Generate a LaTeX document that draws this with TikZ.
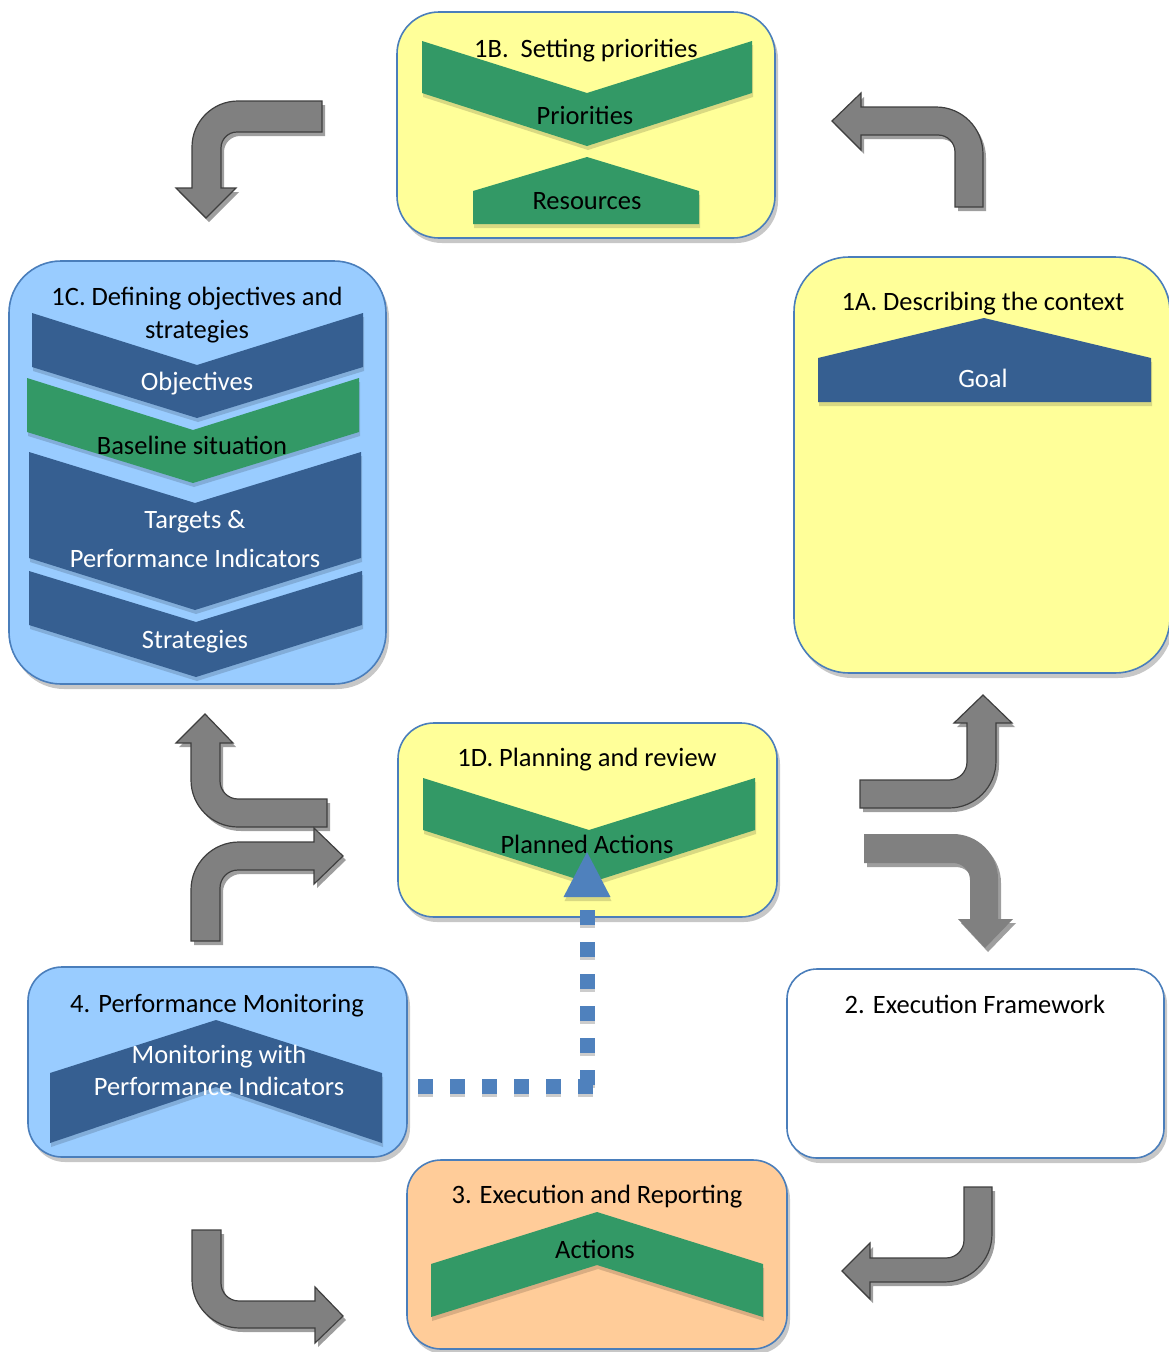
\documentclass[tikz,border=0pt]{standalone}
\usepackage{fontspec}
\setmainfont{Carlito}
\usetikzlibrary{shadows}
\definecolor{cyellow}{HTML}{FFFF99}
\definecolor{clblue}{HTML}{99CCFF}
\definecolor{cpeach}{HTML}{FFCC99}
\definecolor{cgreen}{HTML}{339966}
\definecolor{cblue}{HTML}{365F91}
\definecolor{bordc}{HTML}{4A7EBB}
\definecolor{agray}{HTML}{808080}
\definecolor{adark}{HTML}{3F3F3F}
\definecolor{dotc}{HTML}{4F81BD}
\begin{document}
\begin{tikzpicture}[x=1pt,y=-1pt,
  box/.style={draw=bordc,line width=1.6pt,inner sep=0pt,outer sep=0pt,
    drop shadow={shadow xshift=3pt,shadow yshift=-5pt,fill=black!22,opacity=1}},
  lbl/.style={font=\fontsize{26.5}{30}\selectfont,anchor=base,inner sep=0pt,text=black},
  wlbl/.style={lbl,text=white},
  shshadow/.style={drop shadow={shadow xshift=1pt,shadow yshift=-4pt,fill=black,opacity=0.15}},
  gshape/.style={fill=cgreen,shshadow},
  bshape/.style={fill=cblue,shshadow},
  garrow/.style={fill=agray,draw=adark,line width=1.2pt,line join=miter,
    drop shadow={shadow xshift=3pt,shadow yshift=-4pt,fill=black!38,opacity=1}},
  garrowplain/.style={fill=agray,
    drop shadow={shadow xshift=3pt,shadow yshift=-4pt,fill=black!38,opacity=1}},
  dotline/.style={draw=dotc,line width=15pt,dash pattern=on 15pt off 17pt},
  dotshadow/.style={draw=black!20,line width=15pt,dash pattern=on 15pt off 17pt}
]
\useasboundingbox (0,0) rectangle (1169,1352);

% ---------- boxes ----------
\node[box,fill=cyellow,rounded corners=42pt,minimum width=378pt,minimum height=226pt] (b1B) at (586,125) {};
\node[box,fill=clblue,rounded corners=52pt,minimum width=377pt,minimum height=423pt] (b1C) at (197.5,472.5) {};
\node[box,fill=cyellow,rounded corners=55pt,minimum width=376pt,minimum height=416pt] (b1A) at (982,465) {};
\node[box,fill=cyellow,rounded corners=36pt,minimum width=379pt,minimum height=194pt] (b1D) at (587.5,820) {};
\node[box,fill=clblue,rounded corners=34pt,minimum width=379pt,minimum height=190pt] (b4) at (217.5,1062) {};
\node[box,fill=white,rounded corners=30pt,minimum width=377pt,minimum height=189pt] (b2) at (975.5,1063.5) {};
\node[box,fill=cpeach,rounded corners=34pt,minimum width=380pt,minimum height=189pt] (b3) at (597,1254.5) {};

% ---------- chevrons ----------
\fill[gshape] (422,41) -- (587,93) -- (752,41) -- (752,93) -- (587,146) -- (422,93) -- cycle;
\fill[gshape] (587,157) -- (699,191) -- (699,224) -- (473,224) -- (473,191) -- cycle;
\fill[bshape] (32,313) -- (197,365) -- (363,313) -- (363,367) -- (197,418) -- (32,367) -- cycle;
\fill[gshape] (27,378) -- (193,430) -- (359,378) -- (359,432) -- (193,483) -- (27,432) -- cycle;
\fill[bshape] (29,452) -- (195,503) -- (361,452) -- (361,558) -- (195,610) -- (29,558) -- cycle;
\fill[bshape] (29,571) -- (196,622) -- (362,571) -- (362,625) -- (196,677) -- (29,625) -- cycle;
\fill[bshape] (984,318) -- (1151,358) -- (1151,402) -- (818,402) -- (818,358) -- cycle;
\fill[gshape] (423,778) -- (589,830) -- (755,778) -- (755,830) -- (589,883) -- (423,830) -- cycle;
\fill[bshape] (216,1020) -- (382,1073) -- (382,1143) -- (216,1087) -- (50,1143) -- (50,1073) -- cycle;
\fill[gshape] (597,1212) -- (763,1264) -- (763,1317) -- (597,1265) -- (431,1317) -- (431,1264) -- cycle;

% ---------- dotted connector ----------
\coordinate (dotstart) at (418,1086);
\coordinate (dotbend) at (594,1086);
\coordinate (dotup) at (587,910);
\coordinate (dotdown) at (587,1086);
\coordinate (tribase) at (587,897);
\draw[dotshadow,transform canvas={yshift=-3pt}] (dotstart) -- (dotbend);
\draw[dotshadow,transform canvas={yshift=-3pt}] (dotup) -- (dotdown);
\draw[dotline] (dotstart) -- (dotbend);
\draw[dotline] (dotup) -- (dotdown);
\fill[fill=dotc,shshadow] (587,852) -- ([xshift=23.5pt]tribase) -- ([xshift=-23.5pt]tribase) -- cycle;

% ---------- texts ----------
\node[lbl] (t1B) at (586,57) {1B.~~Setting priorities};
\node[lbl] (tPri) at (585,124) {Priorities};
\node[lbl] (tRes) at (587,209) {Resources};
\node[lbl] (t1Ca) at (197,305) {1C. Defining objectives and};
\node[lbl] (t1Cb) at (197,338) {strategies};
\node[wlbl] (tObj) at (197,390) {Objectives};
\node[lbl] (tBase) at (192,454) {Baseline situation};
\node[wlbl] (tTa) at (195,528) {Targets \&};
\node[wlbl] (tTb) at (195,567) {Performance Indicators};
\node[wlbl] (tStr) at (195,648) {Strategies};
\node[lbl] (t1A) at (983,310) {1A. Describing the context};
\node[wlbl] (tGoal) at (983,387) {Goal};
\node[lbl] (t1D) at (587,766) {1D. Planning and review};
\node[lbl] (tPA) at (587,853) {Planned Actions};
\node[lbl] (t4) at (217,1012) {4. Performance Monitoring};
\node[wlbl] (tMa) at (219,1063) {Monitoring with};
\node[wlbl] (tMb) at (219,1095) {Performance Indicators};
\node[lbl] (t2) at (975,1013) {2. Execution Framework};
\node[lbl] (t3) at (597,1203) {3. Execution and Reporting};
\node[lbl] (tAct) at (595,1258) {Actions};

% ---------- gray bent arrows ----------
% A: top-left, from 1B down to 1C
\path[garrow] (322,101) -- (238,101) arc[start angle=270,end angle=180,radius=46]
  -- (192,188) -- (176,188) -- (206,218) -- (236,188) -- (221,188)
  -- (221,148) arc[start angle=180,end angle=270,radius=16] -- (322,132) -- cycle;
% B: top-right, from 1A to 1B
\path[garrow] (861,107) -- (936,107) arc[start angle=270,end angle=360,radius=47]
  -- (983,207) -- (955,207) -- (955,152) arc[start angle=0,end angle=-90,radius=17]
  -- (861,135) -- (861,150) -- (832,121) -- (861,93) -- cycle;
% C: left middle, up to 1C
\path[garrow] (205,714) -- (233,743) -- (220,743) -- (220,781) arc[start angle=180,end angle=90,radius=18]
  -- (327,799) -- (327,827) -- (238,827) arc[start angle=90,end angle=180,radius=47]
  -- (191,743) -- (176,743) -- cycle;
% D: left middle, right to 1D
\path[garrow] (343,856) -- (314,828) -- (314,842) -- (239,842) arc[start angle=270,end angle=180,radius=48]
  -- (191,941) -- (220,941) -- (220,888) arc[start angle=180,end angle=270,radius=18]
  -- (314,870) -- (314,884) -- cycle;
% E: right middle, up to 1A
\path[garrow] (983,695) -- (1012,723) -- (996,723) -- (996,761) arc[start angle=0,end angle=90,radius=47]
  -- (860,808) -- (860,780) -- (949,780) arc[start angle=90,end angle=0,radius=18]
  -- (967,723) -- (954,723) -- cycle;
% F: right middle, down to 2
\path[garrowplain] (864,834) -- (953,834) arc[start angle=270,end angle=360,radius=45]
  -- (998,919) -- (1013,919) -- (985,948) -- (958,919) -- (970,919)
  -- (970,880) arc[start angle=0,end angle=-90,radius=17] -- (864,863) -- cycle;
% G: bottom-left, right to 3
\path[garrow] (192,1230) -- (221,1230) -- (221,1283) arc[start angle=180,end angle=90,radius=18]
  -- (315,1301) -- (315,1287) -- (343,1316) -- (315,1343) -- (315,1328)
  -- (240,1328) arc[start angle=90,end angle=180,radius=48] -- cycle;
% H: bottom-right, left to 3
\path[garrow] (964,1187) -- (992,1187) -- (992,1234) arc[start angle=0,end angle=90,radius=48]
  -- (870,1282) -- (870,1299) -- (842,1271) -- (870,1243) -- (870,1258)
  -- (946,1258) arc[start angle=90,end angle=0,radius=18] -- cycle;
\end{tikzpicture}
\end{document}
